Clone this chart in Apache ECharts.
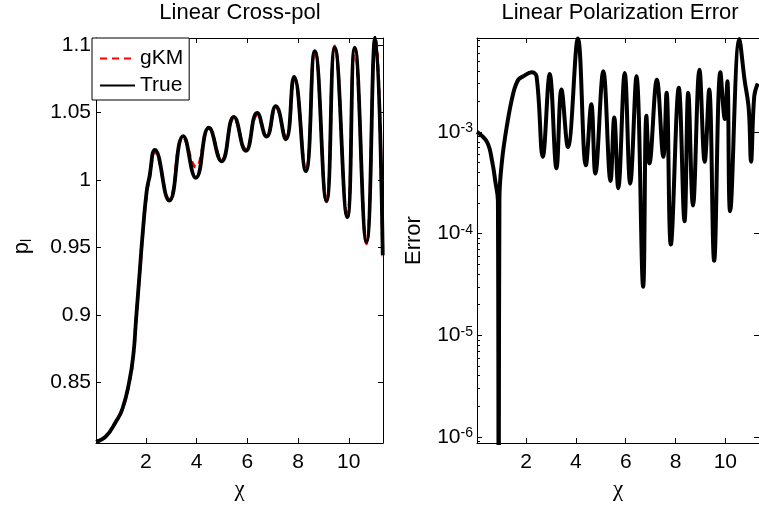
<!DOCTYPE html>
<html><head><meta charset="utf-8">
<script src="https://cdn.jsdelivr.net/npm/echarts@6/dist/echarts.min.js"></script>
<style>html,body{margin:0;padding:0;background:#fff}#c{width:759px;height:506px}</style>
</head><body><div id="c"></div>
<script>
// ---- data ----
const xTicks = [2, 4, 6, 8, 10];
const pTicks = [0.85, 0.9, 0.95, 1, 1.05, 1.1];
const errMinorTicks = [9e-7,
  2e-6, 3e-6, 4e-6, 5e-6, 6e-6, 7e-6, 8e-6, 9e-6,
  2e-5, 3e-5, 4e-5, 5e-5, 6e-5, 7e-5, 8e-5, 9e-5,
  2e-4, 3e-4, 4e-4, 5e-4, 6e-4, 7e-4, 8e-4, 9e-4,
  2e-3, 3e-3, 4e-3, 5e-3, 6e-3, 7e-3, 8e-3];

const crossX  = [0.03, 0.42, 0.82, 1.08, 1.34, 1.50, 1.61, 1.74, 1.87, 2.03, 2.13, 2.355, 2.918, 3.470, 3.970, 4.483, 4.983, 5.468, 5.941, 6.386, 6.757, 7.123, 7.517, 7.844, 8.305, 8.660, 9.121, 9.448, 9.941, 10.236, 10.698, 11.044, 11.34];
const trueVals = [0.8060, 0.8100, 0.8210, 0.8308, 0.8503, 0.8698, 0.8966, 0.9283, 0.9600, 0.9917, 1.0015, 1.0222, 0.9846, 1.0324, 1.0015, 1.0386, 1.0137, 1.0466, 1.0214, 1.0495, 1.0320, 1.0546, 1.0300, 1.0761, 1.0064, 1.0953, 0.9844, 1.0978, 0.9722, 1.0978, 0.9539, 1.1055, 0.9440];
const gkmVals  = [0.8060, 0.8100, 0.8210, 0.8305, 0.8498, 0.8693, 0.8960, 0.9278, 0.9595, 0.9905, 0.9995, 1.0205, 0.9858, 1.0312, 1.0095, 1.0378, 1.0150, 1.0455, 1.0228, 1.0478, 1.0325, 1.0535, 1.0305, 1.0752, 1.0070, 1.0958, 0.9838, 1.0990, 0.9718, 1.0975, 0.9528, 1.1055, 0.9430];

const errX    = [0.03, 0.44, 0.64, 0.77, 0.87, 0.90, 0.93, 1.03, 1.23, 1.49, 1.69, 1.89, 2.22, 2.42, 2.67, 2.95, 3.22, 3.42, 3.68, 4.08, 4.40, 4.62, 4.78, 5.10, 5.39, 5.54, 5.70, 5.96, 6.18, 6.43, 6.70, 6.83, 6.95, 7.25, 7.51, 7.64, 7.81, 8.13, 8.36, 8.51, 8.70, 8.96, 9.17, 9.35, 9.55, 9.80, 9.98, 10.08, 10.19, 10.56, 10.77, 10.94, 11.03, 11.16, 11.30];
const errVals = [1.0e-3, 7.9e-4, 5.1e-4, 3.2e-4, 2.1e-4, 5e-8, 2.2e-4, 5.1e-4, 1.15e-3, 2.43e-3, 3.27e-3, 3.53e-3, 3.86e-3, 3.53e-3, 5.7e-4, 3.71e-3, 4.4e-4, 2.62e-3, 7.1e-4, 8.3e-3, 4.7e-4, 1.87e-3, 3.9e-4, 3.95e-3, 3.3e-4, 1.39e-3, 2.8e-4, 3.8e-3, 3.1e-4, 3.53e-3, 3.0e-5, 1.44e-3, 4.9e-4, 3.27e-3, 5.7e-4, 2.43e-3, 7.8e-5, 2.72e-3, 1.32e-4, 2.43e-3, 1.89e-4, 4.09e-3, 5.1e-4, 2.62e-3, 5.4e-5, 3.87e-3, 1.34e-3, 3.15e-3, 1.66e-4, 8.2e-3, 3.27e-3, 1.67e-3, 5.1e-4, 2.25e-3, 3.0e-3];

// ---- layout / style ----
const X_MIN = 0.03, X_MAX = 11.35;
const P_MIN = 0.805, P_MAX = 1.105;
const E_MIN = 8.7e-7, E_MAX = 8.4e-3;
const FONT = '"Liberation Sans", Arial, sans-serif';
const BLACK = '#000';

function xAxis(gridIndex, position, showLabel, name) {
  return {
    type: 'value', gridIndex, position, min: X_MIN, max: X_MAX,
    axisLine: {show: true, onZero: false, lineStyle: {color: BLACK, width: 1}},
    axisTick: {show: true, inside: true, length: 5, customValues: xTicks, lineStyle: {color: BLACK, width: 1}},
    axisLabel: {show: showLabel, customValues: xTicks, margin: 9, color: BLACK, fontFamily: FONT, fontSize: 21},
    splitLine: {show: false},
    name: name || '', nameLocation: 'middle', nameGap: 30,
    nameTextStyle: {fontFamily: '"Liberation Serif", "DejaVu Serif", serif', fontSize: 23, color: BLACK}
  };
}

const supRich = {
  base: {fontFamily: FONT, fontSize: 21, color: BLACK, lineHeight: 21, verticalAlign: 'bottom'},
  sup: {fontFamily: FONT, fontSize: 14, color: BLACK, lineHeight: 14, verticalAlign: 'top', padding: [0, 0, 12, 0]}
};

const chart = echarts.init(document.getElementById('c'), null, {renderer: 'canvas'});
chart.setOption({
  animation: false,
  backgroundColor: '#fff',
  title: [
    {text: 'Linear Cross-pol', left: 240, top: 2, textAlign: 'center', padding: 0,
     textStyle: {fontFamily: FONT, fontSize: 22, fontWeight: 'normal', color: BLACK}},
    {text: 'Linear Polarization Error', left: 620, top: 2, textAlign: 'center', padding: 0,
     textStyle: {fontFamily: FONT, fontSize: 22, fontWeight: 'normal', color: BLACK}}
  ],
  legend: {
    data: ['gKM', 'True'], orient: 'vertical', left: 92, top: 38,
    backgroundColor: '#fff', borderColor: BLACK, borderWidth: 1, borderRadius: 0,
    padding: [10, 6, 4, 7], itemGap: 6, itemWidth: 35, itemHeight: 14,
    itemStyle: {opacity: 0},
    textStyle: {fontFamily: FONT, fontSize: 21, color: BLACK}
  },
  grid: [
    {left: 96, top: 38, width: 287, height: 410},
    {left: 477, top: 38, width: 287, height: 410}
  ],
  xAxis: [
    xAxis(0, 'bottom', true, 'χ'),
    xAxis(0, 'top', false, ''),
    xAxis(1, 'bottom', true, 'χ'),
    xAxis(1, 'top', false, '')
  ],
  yAxis: [
    {type: 'value', gridIndex: 0, position: 'left', min: P_MIN, max: P_MAX,
     axisLine: {show: true, onZero: false, lineStyle: {color: BLACK, width: 1}},
     axisTick: {show: true, inside: true, length: 5, customValues: pTicks, lineStyle: {color: BLACK}},
     axisLabel: {customValues: pTicks, margin: 5, color: BLACK, fontFamily: FONT, fontSize: 21,
                 formatter: v => String(Math.round(v * 100) / 100)},
     splitLine: {show: false},
     name: 'p{sub|l}', nameLocation: 'middle', nameGap: 62,
     nameTextStyle: {fontFamily: FONT, fontSize: 22, color: BLACK, padding: [0, 12, 0, 0],
       rich: {sub: {fontFamily: FONT, fontSize: 14, color: BLACK, verticalAlign: 'bottom', padding: [10, 0, 0, 0]}}}},
    {type: 'value', gridIndex: 0, position: 'right', min: P_MIN, max: P_MAX,
     axisLine: {show: true, onZero: false, lineStyle: {color: BLACK, width: 1}},
     axisTick: {show: true, inside: true, length: 5, customValues: pTicks, lineStyle: {color: BLACK}},
     axisLabel: {show: false}, splitLine: {show: false}},
    {type: 'log', logBase: 10, gridIndex: 1, position: 'left', min: E_MIN, max: E_MAX,
     axisLine: {show: true, onZero: false, lineStyle: {color: BLACK, width: 1}},
     axisTick: {show: true, inside: true, length: 5, lineStyle: {color: BLACK}},
     axisLabel: {margin: 4, showMinLabel: false, showMaxLabel: false,
       formatter: v => '{base|10}{sup|' + Math.round(Math.log10(v)) + '}', rich: supRich},
     splitLine: {show: false},
     name: 'Error', nameLocation: 'middle', nameGap: 52,
     nameTextStyle: {fontFamily: FONT, fontSize: 22, color: BLACK}},
    {type: 'log', logBase: 10, gridIndex: 1, position: 'right', min: E_MIN, max: E_MAX,
     axisLine: {show: true, onZero: false, lineStyle: {color: BLACK, width: 1}},
     axisTick: {show: true, inside: true, length: 5, lineStyle: {color: BLACK}},
     axisLabel: {show: false}, splitLine: {show: false}},
    // minor ticks of the log axis, placed through a value axis in log10 units
    {type: 'value', gridIndex: 1, position: 'left', min: Math.log10(E_MIN), max: Math.log10(E_MAX),
     axisLine: {show: false},
     axisTick: {show: true, inside: true, length: 3, customValues: errMinorTicks.map(v => Math.log10(v)), lineStyle: {color: BLACK}},
     axisLabel: {show: false}, splitLine: {show: false}}
  ],
  series: [
    {name: 'gKM', type: 'line', xAxisIndex: 0, yAxisIndex: 0, smooth: true, symbol: 'none', clip: true,
     data: crossX.map((x, i) => [x, gkmVals[i]]),
     lineStyle: {color: '#ff0000', width: 3, type: [7, 5]}, itemStyle: {color: '#ff0000'}},
    {name: 'True', type: 'line', xAxisIndex: 0, yAxisIndex: 0, smooth: true, symbol: 'none', clip: true,
     data: crossX.map((x, i) => [x, trueVals[i]]),
     lineStyle: {color: BLACK, width: 3.8}, itemStyle: {color: BLACK}},
    {name: 'Error', type: 'line', xAxisIndex: 2, yAxisIndex: 2, smooth: 0.4, symbol: 'none', clip: true,
     data: errX.map((x, i) => [x, errVals[i]]),
     lineStyle: {color: BLACK, width: 4}, itemStyle: {color: BLACK}}
  ]
});
</script>
</body></html>
